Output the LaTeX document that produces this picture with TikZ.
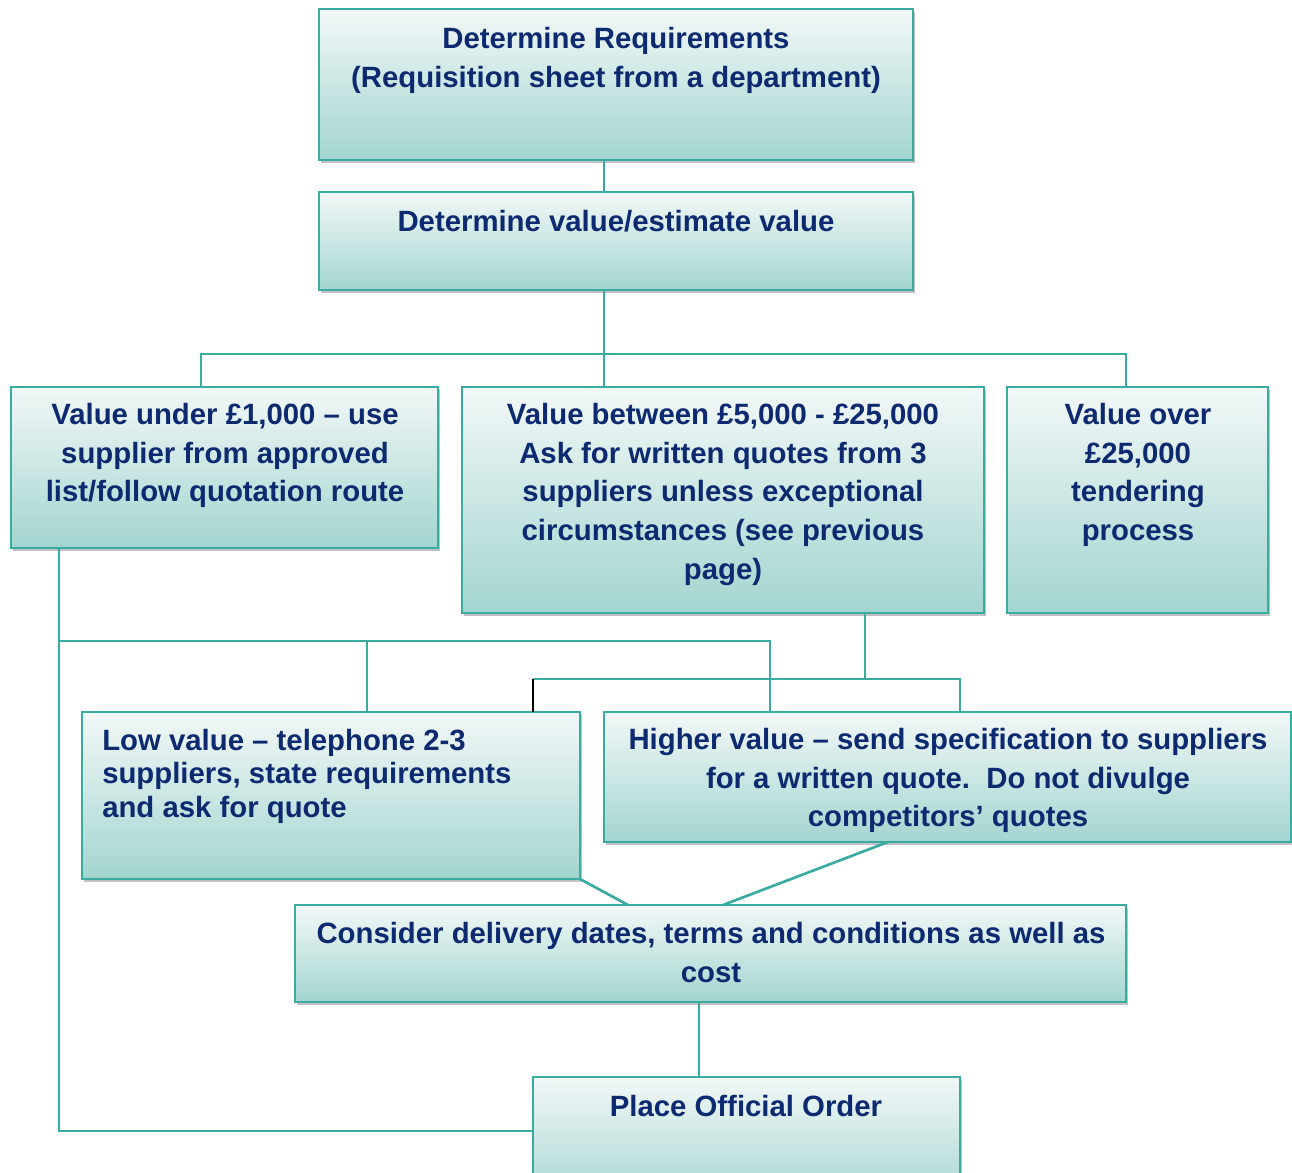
\documentclass[tikz,border=0pt]{standalone}
\usepackage{fontspec}
\setmainfont{Liberation Sans}
\usetikzlibrary{shadows,calc}

\definecolor{edge}{HTML}{3AABA0}
\definecolor{filltop}{HTML}{F2F8F7}
\definecolor{fillbot}{HTML}{A3D5D0}
\definecolor{ink}{HTML}{0D2A70}

\tikzset{
  boxshade/.style={drop shadow={shadow xshift=1.5pt, shadow yshift=-2.5pt, opacity=0.35, fill=black!70}},
  box/.style={draw=edge, line width=2pt, top color=filltop, bottom color=fillbot,
    inner sep=0pt, outer sep=0pt, anchor=north west, boxshade},
  sz/.style n args={2}{minimum width=#1*0.75pt, minimum height=#2*0.75pt},
  txt/.style={font=\bfseries\fontsize{22}{29}\selectfont, text=ink, align=center,
    inner sep=0pt, anchor=north},
  conn/.style={draw=edge, line width=2pt},
}

\begin{document}
\begin{tikzpicture}[x=0.75pt, y=-0.75pt]
\useasboundingbox (0,0) rectangle (1292,1173);
\begin{scope}
\clip (0,0) rectangle (1292,1173);

% junction points of the connectors
\coordinate (busA)  at (604,354);
\coordinate (busL)  at (201,354);
\coordinate (busR)  at (1126,354);
\coordinate (cornerL) at (59,1131);
\coordinate (busB)  at (770,641);
\coordinate (tapLow) at (367,641);
\coordinate (busC)  at (865,679);
\coordinate (busCl) at (533,679);
\coordinate (busCr) at (960,679);
\coordinate (dA) at (628,905);
\coordinate (dB) at (723,905);
\coordinate (dC) at (888,841);
\coordinate (tapP) at (699,1040);

% boxes
\node[box, sz={594}{151}] (req)   at (319,9)    {};
\node[box, sz={594}{98}]  (val)   at (319,192)  {};
\node[box, sz={427}{161}] (left)  at (11,387)   {};
\node[box, sz={522}{226}] (mid)   at (462,387)  {};
\node[box, sz={261}{226}] (right) at (1007,387) {};
\node[box, sz={498}{167}] (low)   at (82,712)   {};
\node[box, sz={687}{130}] (high)  at (604,712)  {};
\node[box, sz={831}{97}]  (cons)  at (295,905)  {};
\node[box, sz={427}{130}] (place) at (533,1077) {};

% connectors between the boxes
\draw[conn] (req.south -| busA) -- (val.north -| busA);
\draw[conn] (val.south -| busA) -- (mid.north -| busA);
\draw[conn] (left.north -| busL) -- (busL) -- (busR) -- (right.north -| busR);
\draw[conn] (left.south -| cornerL) -- (cornerL) -- (cornerL -| place.west);
\draw[conn] (busB -| cornerL) -- (busB) -- (busB |- high.north);
\draw[conn] (tapLow) -- (tapLow |- low.north);
\draw[conn] (mid.south -| busC) -- (busC);
\draw[conn] (busCl) -- (busCr) -- (busCr |- high.north);
\draw[black, line width=1pt] (busCl) -- (busCl |- low.north);
\draw[conn] (low.south east) -- (dA);
\draw[conn] (high.south -| dC) -- (dB);
\draw[conn] (cons.south -| tapP) -- (place.north -| tapP);

% box texts
\node[txt] (reqT) at (616,27) {Determine Requirements\\(Requisition sheet from a department)};
\node[txt] (valT) at (616,210) {Determine value/estimate value};
\node[txt] (leftT) at (225,403) {Value under £1,000 – use\\supplier from approved\\list/follow quotation route};
\node[txt] (midT) at (723,403) {Value between £5,000 - £25,000\\Ask for written quotes from 3\\suppliers unless exceptional\\circumstances (see previous\\page)};
\node[txt] (rightT) at (1138,403) {Value over\\£25,000\\tendering\\process};
\node[txt, align=left, anchor=north west, font=\bfseries\fontsize{22}{25}\selectfont] (lowT) at (102,729)
  {Low value – telephone 2-3\\suppliers, state requirements\\and ask for quote};
\node[txt] (highT) at (948,728) {Higher value – send specification to suppliers\\for a written quote.\ \ Do not divulge\\competitors’ quotes};
\node[txt] (consT) at (711,922) {Consider delivery dates, terms and conditions as well as\\cost};
\node[txt] (placeT) at (746,1095) {Place Official Order};
\end{scope}
\end{tikzpicture}
\end{document}
